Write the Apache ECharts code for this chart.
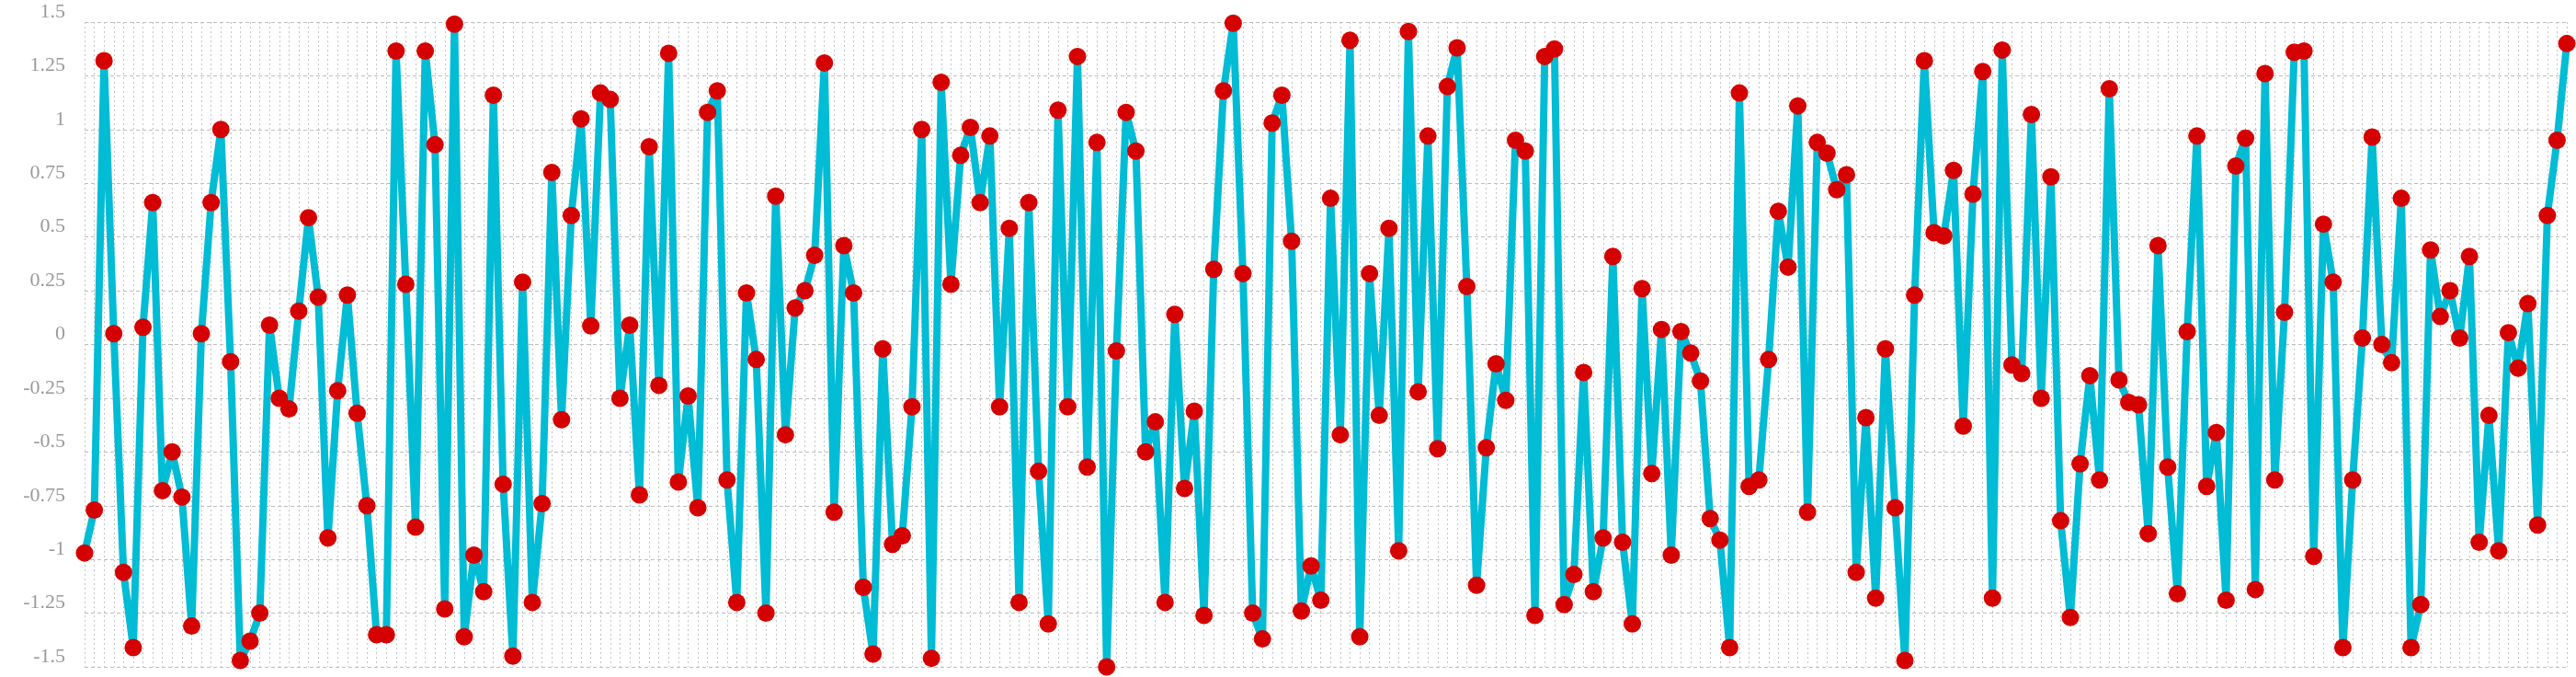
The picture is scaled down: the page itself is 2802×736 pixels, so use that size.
<!DOCTYPE html>
<html>
<head>
<meta charset="utf-8">
<script src="https://cdn.jsdelivr.net/npm/echarts@6/dist/echarts.min.js"></script>
<style>
  html, body { margin: 0; padding: 0; background: #ffffff; }
  #chart { width: 2802px; height: 736px; }
</style>
</head>
<body>
<div id="chart"></div>
<script>
const values = [
  -0.97, -0.77, 1.32, 0.05, -1.06, -1.41, 0.08, 0.66, -0.68, -0.5,
  -0.71, -1.31, 0.05, 0.66, 1.0, -0.08, -1.47, -1.38, -1.25, 0.09,
  -0.25, -0.30, 0.155, 0.59, 0.22, -0.90, -0.215, 0.23, -0.32, -0.75,
  -1.35, -1.35, 1.365, 0.28, -0.85, 1.365, 0.93, -1.23, 1.49, -1.36,
  -0.98, -1.15, 1.16, -0.65, -1.45, 0.29, -1.20, -0.74, 0.80, -0.35,
  0.60, 1.05, 0.087, 1.17, 1.14, -0.25, 0.09, -0.70, 0.92, -0.19,
  1.355, -0.64, -0.24, -0.76, 1.08, 1.18, -0.63, -1.20, 0.24, -0.07,
  -1.25, 0.69, -0.42, 0.17, 0.25, 0.415, 1.31, -0.78, 0.46, 0.24,
  -1.13, -1.44, -0.02, -0.93, -0.89, -0.29, 1.0, -1.46, 1.22, 0.28,
  0.88, 1.01, 0.66, 0.97, -0.29, 0.54, -1.20, 0.66, -0.59, -1.30,
  1.09, -0.29, 1.34, -0.57, 0.94, -1.5, -0.03, 1.08, 0.90, -0.5,
  -0.36, -1.20, 0.14, -0.67, -0.31, -1.26, 0.35, 1.18, 1.495, 0.33,
  -1.25, -1.37, 1.03, 1.16, 0.48, -1.24, -1.03, -1.19, 0.68, -0.42,
  1.415, -1.36, 0.33, -0.33, 0.54, -0.96, 1.456, -0.22, 0.97, -0.485,
  1.20, 1.38, 0.27, -1.12, -0.48, -0.09, -0.26, 0.95, 0.90, -1.26,
  1.34, 1.375, -1.21, -1.07, -0.13, -1.15, -0.90, 0.41, -0.92, -1.30,
  0.26, -0.60, 0.07, -0.98, 0.06, -0.04, -0.17, -0.81, -0.91, -1.41,
  1.17, -0.66, -0.63, -0.07, 0.62, 0.36, 1.11, -0.78, 0.94, 0.89,
  0.72, 0.79, -1.06, -0.34, -1.18, -0.02, -0.76, -1.47, 0.23, 1.32,
  0.52, 0.505, 0.81, -0.38, 0.70, 1.27, -1.18, 1.37, -0.095, -0.135,
  1.07, -0.25, 0.78, -0.82, -1.27, -0.555, -0.145, -0.63, 1.19, -0.165,
  -0.27, -0.28, -0.88, 0.46, -0.57, -1.16, 0.06, 0.97, -0.66, -0.41,
  -1.19, 0.83, 0.96, -1.14, 1.26, -0.63, 0.15, 1.36, 1.365, -0.985,
  0.56, 0.29, -1.41, -0.63, 0.03, 0.965, 0.0, -0.085, 0.68, -1.41,
  -1.21, 0.44, 0.13, 0.25, 0.03, 0.41, -0.92, -0.33, -0.96, 0.055,
  -0.11, 0.19, -0.84, 0.60, 0.95, 1.40
];
const categories = values.map((_, i) => String(i));
const yMin = -1.5;
const yMax = 1.5;
const yStep = 0.25;

const chart = echarts.init(document.getElementById('chart'), null, { renderer: 'canvas' });
chart.setOption({
  animation: false,
  backgroundColor: '#ffffff',
  grid: { left: 92, right: 10, top: 24, bottom: 11, containLabel: false },
  xAxis: {
    type: 'category',
    data: categories,
    boundaryGap: false,
    axisLine: { show: false },
    axisTick: { show: false },
    axisLabel: { show: false },
    splitLine: {
      show: true,
      interval: 0,
      lineStyle: { color: '#c4c4c4', width: 1, type: [2, 3] }
    }
  },
  yAxis: {
    type: 'value',
    min: yMin,
    max: yMax,
    interval: yStep,
    axisLine: { show: false },
    axisTick: { show: false },
    axisLabel: {
      color: '#9a9a9a',
      fontFamily: 'Liberation Serif',
      fontSize: 22,
      margin: 21,
      verticalAlign: 'bottom'
    },
    splitLine: {
      show: true,
      lineStyle: { color: '#bdbdbd', width: 1, type: [4, 3] }
    }
  },
  series: [{
    type: 'line',
    data: values,
    smooth: false,
    symbol: 'circle',
    symbolSize: 19,
    showAllSymbol: true,
    lineStyle: { color: '#00BCD4', width: 8 },
    itemStyle: { color: '#D50000' }
  }]
});
</script>
</body>
</html>
